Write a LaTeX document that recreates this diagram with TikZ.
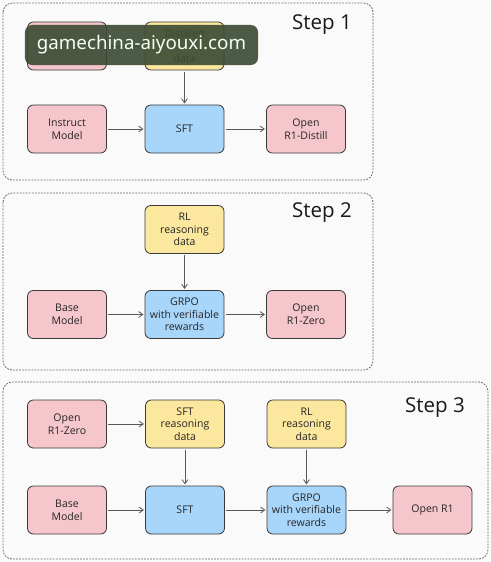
\documentclass[tikz,border=0pt]{standalone}
\usepackage{fontspec}
\setmainfont{Open Sans}
\newfontfamily\wmfont{Noto Sans}
\usetikzlibrary{arrows.meta}
\definecolor{pinkfill}{HTML}{F5C6CB}
\definecolor{yellowfill}{HTML}{FBE79D}
\definecolor{bluefill}{HTML}{A8D5FA}
\definecolor{edgegray}{HTML}{3A3A3A}
\definecolor{wmgreen}{HTML}{3B4A33}
\tikzset{
  box/.style={draw=edgegray, line width=.7pt, rounded corners=5pt,
    minimum width=2.37cm, minimum height=1.44cm, inner sep=1pt, align=center,
    font=\fontsize{9}{10.8}\selectfont, text=black!85},
  pinkbox/.style={box, fill=pinkfill},
  yellowbox/.style={box, fill=yellowfill},
  bluebox/.style={box, fill=bluefill},
  frame/.style={draw=black!62, dash pattern=on 1.5pt off 1.1pt,
    rounded corners=8pt, line width=.65pt},
  arr/.style={-{Straight Barb[length=3.5pt,width=5pt]}, draw=black!65,
    line width=.7pt, shorten >=1pt, shorten <=1pt},
  steplabel/.style={font=\fontsize{17.5}{20}\selectfont, text=black!90},
  wmark/.style={fill=wmgreen, fill opacity=.9, text opacity=1,
    text=green!4!white, rounded corners=6pt, minimum width=6.99cm,
    minimum height=1.2cm, inner sep=0pt, font=\wmfont\fontsize{16}{18}\selectfont}
}
\begin{document}
\begin{tikzpicture}[x=.03cm, y=-.03cm]
  \fill[black!2] (0,0) rectangle (490,562);
  \draw[frame] (3,3) rectangle (373,180);
  \draw[frame] (3,193) rectangle (373,370);
  \draw[frame] (3,382) rectangle (488,559);
  \node[steplabel] (st1) at (322,25) {Step 1};
  \node[steplabel] (st2) at (322,213) {Step 2};
  \node[steplabel] (st3) at (435,408) {Step 3};
  \node[pinkbox] (A1) at (67,46) {};
  \node[yellowbox] (D1) at (184.5,46) {Distilled\\\mbox{}\\data};
  \node[pinkbox] (I1) at (67,129) {Instruct\\Model};
  \node[bluebox] (S1) at (184.5,129) {SFT};
  \node[pinkbox] (O1) at (306,129) {Open\\R1-Distill};
  \draw[arr] (A1) -- (D1);
  \draw[arr] (D1) -- (S1);
  \draw[arr] (I1) -- (S1);
  \draw[arr] (S1) -- (O1);
  \node[yellowbox] (R2) at (184.5,229.5) {RL\\reasoning\\data};
  \node[pinkbox] (B2) at (67,314.5) {Base\\Model};
  \node[bluebox] (G2) at (184.5,314.5) {GRPO\\with verifiable\\rewards};
  \node[pinkbox] (O2) at (306,314.5) {Open\\R1-Zero};
  \draw[arr] (R2) -- (G2);
  \draw[arr] (B2) -- (G2);
  \draw[arr] (G2) -- (O2);
  \node[pinkbox] (Z3) at (67,424) {Open\\R1-Zero};
  \node[yellowbox] (T3) at (185,424) {SFT\\reasoning\\data};
  \node[yellowbox] (R3) at (306.5,424) {RL\\reasoning\\data};
  \node[pinkbox] (B3) at (67,510) {Base\\Model};
  \node[bluebox] (S3) at (185,510) {SFT};
  \node[bluebox] (G3) at (306.5,510) {GRPO\\with verifiable\\rewards};
  \node[pinkbox] (O3) at (432.5,510) {Open R1};
  \draw[arr] (Z3) -- (T3);
  \draw[arr] (T3) -- (S3);
  \draw[arr] (R3) -- (G3);
  \draw[arr] (B3) -- (S3);
  \draw[arr] (S3) -- (G3);
  \draw[arr] (G3) -- (O3);
  \node[wmark] (wm) at (141.5,45) {gamechina-aiyouxi.com};
\end{tikzpicture}
\end{document}
